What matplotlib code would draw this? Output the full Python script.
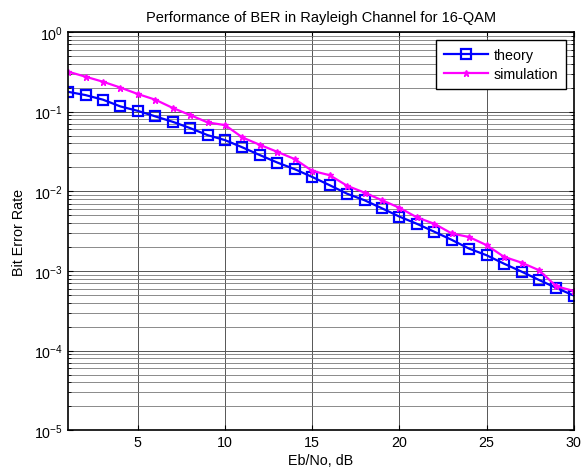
import matplotlib
matplotlib.use('Agg')
import matplotlib.pyplot as plt
from matplotlib.ticker import LogLocator, NullFormatter

plt.rcParams['font.family'] = ['Liberation Sans', 'DejaVu Sans']
plt.rcParams['mathtext.fontset'] = 'custom'
plt.rcParams['mathtext.rm'] = 'Liberation Sans'
plt.rcParams['mathtext.it'] = 'Liberation Sans'
plt.rcParams['mathtext.bf'] = 'Liberation Sans'

ebno = list(range(1, 31))
theory = [0.177, 0.161, 0.141, 0.116, 0.102, 0.087, 0.0744, 0.062, 0.0506, 0.0438,
          0.0355, 0.0284, 0.0229, 0.0189, 0.0151, 0.0119, 0.0093, 0.0077, 0.0061, 0.0048,
          0.0039, 0.0031, 0.00245, 0.0019, 0.00157, 0.00123, 0.00098, 0.00077, 0.00061, 0.00049]
simulation = [0.317, 0.274, 0.237, 0.200, 0.166, 0.141, 0.111, 0.0904, 0.0731, 0.0676,
              0.0473, 0.0382, 0.0312, 0.0253, 0.018, 0.0159, 0.0117, 0.0096, 0.0077, 0.0062,
              0.0047, 0.0039, 0.00295, 0.00266, 0.0021, 0.0015, 0.00127, 0.00102, 0.00064, 0.00056]

fs = 10.3

fig = plt.figure(figsize=(5.82, 4.77), dpi=100)
ax = fig.add_axes([0.117, 0.096, 0.869, 0.835])

ax.semilogy(ebno, theory, '-s', color='#0000ff', lw=1.6, ms=7, mfc='none',
            mew=1.6, label='theory')
ax.semilogy(ebno, simulation, '-*', color='#ff00ff', lw=1.6, ms=4.5,
            label='simulation')

ax.set_xlim(1, 30)
ax.set_ylim(1e-5, 1)
ax.set_xticks([5, 10, 15, 20, 25, 30])
ax.yaxis.set_major_locator(LogLocator(base=10, numticks=10))
ax.yaxis.set_minor_locator(LogLocator(base=10, subs=range(2, 10), numticks=10))
ax.yaxis.set_minor_formatter(NullFormatter())

ax.grid(True, which='major', color='#555555', lw=0.7)
ax.grid(True, which='minor', axis='y', color='#777777', lw=0.6)
ax.tick_params(which='both', direction='in', top=True, right=True, labelsize=fs)
for s in ax.spines.values():
    s.set_linewidth(1.2)

ax.set_title('Performance of BER in Rayleigh Channel for 16-QAM', fontsize=fs + 0.2, pad=8)
ax.set_xlabel('Eb/No, dB', fontsize=fs, labelpad=3)
ax.set_ylabel('Bit Error Rate', fontsize=fs, labelpad=6)

leg = ax.legend(loc='upper right', fontsize=fs, fancybox=False, framealpha=1,
                edgecolor='black', borderpad=0.55, labelspacing=0.35,
                handlelength=3.1, handletextpad=0.35, borderaxespad=0.55,
                numpoints=1)
leg.get_frame().set_linewidth(1.0)

fig.savefig('out.png', dpi=100)
